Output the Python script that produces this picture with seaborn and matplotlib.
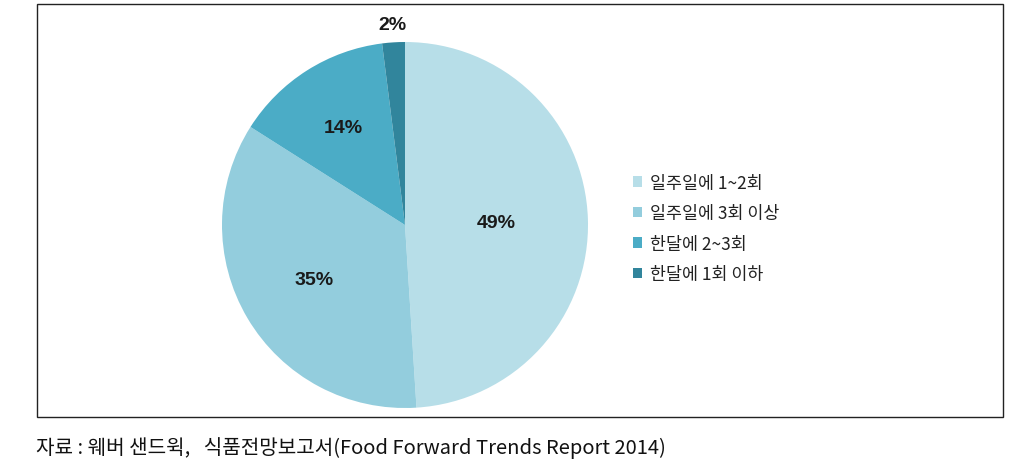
import matplotlib
matplotlib.use("Agg")
import matplotlib.pyplot as plt
import seaborn as sns
import numpy as np
from matplotlib.patches import Rectangle

categories = ["일주일에 1~2회", "일주일에 3회 이상", "한달에 2~3회", "한달에 1회 이하"]
values = [49, 35, 14, 2]
colors = ["#b7dee8", "#93cddd", "#4bacc6", "#31859c"]
caption = "자료 : 웨버 샌드윅,   식품전망보고서(Food Forward Trends Report 2014)"

sns.set_theme(style="white")
plt.rcParams['font.family'] = ['Noto Sans CJK KR', 'DejaVu Sans']

W, H = 1023, 477
fig = plt.figure(figsize=(W / 100, H / 100), dpi=100)
fig.patch.set_facecolor("white")

cx, cy, r = 405, 226, 183
ax = fig.add_axes([(cx - r) / W, (H - cy - r) / H, 2 * r / W, 2 * r / H])
palette = sns.color_palette(colors)
wedges, texts, autotexts = ax.pie(
    values, colors=palette, startangle=90, counterclock=False,
    autopct=lambda p: f"{p:.0f}%", pctdistance=0.6,
    wedgeprops=dict(linewidth=0),
    textprops=dict(fontsize=14, fontweight="bold", color="#1a1a1a",
                   family=["Liberation Sans", "DejaVu Sans"]))
ax.set_xlim(-1, 1)
ax.set_ylim(-1, 1)
ax.set_aspect("equal")

def mid(w):
    return np.deg2rad((w.theta1 + w.theta2) / 2)

# label distances per slice
dists = [0.5, 0.58, 0.63, 1.1]
for w, t, d in zip(wedges, autotexts, dists):
    a = mid(w)
    t.set_position((d * np.cos(a), d * np.sin(a)))

leg = fig.legend(wedges, categories, loc="upper left",
                 bbox_to_anchor=(624 / W, 1 - 166 / H), frameon=False,
                 fontsize=12.5, handlelength=0.55, handleheight=0.55,
                 handletextpad=0.45, labelspacing=0.72, borderpad=0)
for t in leg.get_texts():
    t.set_color("#222222")

fig.patches.append(Rectangle((37 / W, 1 - 418 / H), (1003 - 37) / W, (418 - 5) / H,
                             transform=fig.transFigure, fill=False,
                             edgecolor="#222222", linewidth=1.0))

fig.text(36 / W, 1 - 448 / H, caption, fontsize=14.5, va="center", ha="left",
         color="#111111")

fig.savefig("out.png", dpi=100)
